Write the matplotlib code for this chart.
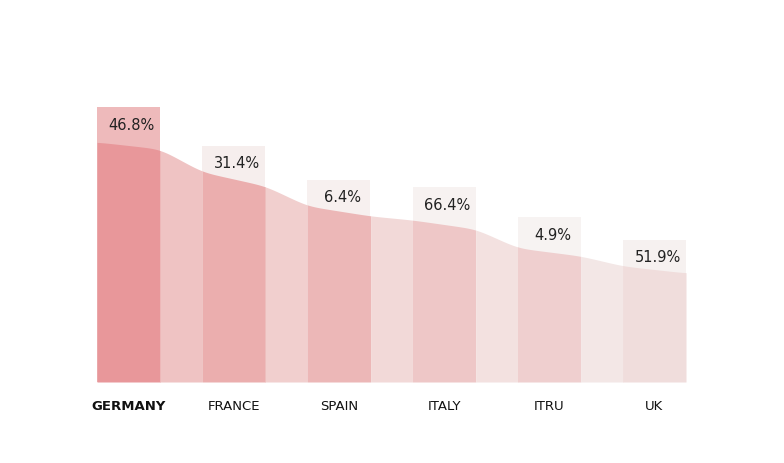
import numpy as np
import matplotlib.pyplot as plt

countries = ['GERMANY', 'FRANCE', 'SPAIN', 'ITALY', 'ITRU', 'UK']
labels = ['46.8%', '31.4%', '6.4%', '66.4%', '4.9%', '51.9%']
box_tops = [55.0, 47.2, 40.4, 39.0, 33.0, 28.4]
# curve height at the left and right edge of each bar
curve_left = [48.0, 42.0, 35.2, 32.4, 26.8, 23.2]
curve_right = [46.6, 39.2, 33.2, 30.6, 25.2, 21.8]

box_colors = ['#eebabb', '#f6eeed', '#f7f0ef', '#f7f2f1', '#f7f3f2', '#f6f1f0']
bar_colors = ['#e8979a', '#ebaeae', '#ecb7b7', '#eec7c7', '#efcfcf', '#f0dddc']
gap_colors = ['#efc3c3', '#f1cfce', '#f2d9d8', '#f3e1e0', '#f3e7e6']

width = 0.6
x = np.arange(len(countries))

fig = plt.figure(figsize=(7.84, 4.64), dpi=100)
ax = fig.add_axes([97 / 784, 81 / 464, 589 / 784, 300 / 464])

# background boxes
ax.bar(x, box_tops, width=width, color=box_colors, zorder=1)

# smooth curve through the bar edges
kx = []
ky = []
for i in range(len(x)):
    kx += [x[i] - width / 2, x[i] + width / 2]
    ky += [curve_left[i], curve_right[i]]
xs = np.linspace(kx[0], kx[-1], 1200)
ys = np.interp(xs, kx, ky)
k = np.exp(-0.5 * (np.arange(-60, 61) / 18.0) ** 2)
k /= k.sum()
ys = np.convolve(np.pad(ys, 60, mode='edge'), k, mode='valid')

for i in range(len(x)):
    m = (xs >= x[i] - width / 2 - 0.003) & (xs <= x[i] + width / 2 + 0.003)
    ax.fill_between(xs, 0, ys, where=m, color=bar_colors[i], lw=0, zorder=2)
    if i < len(x) - 1:
        m = (xs >= x[i] + width / 2 - 0.003) & (xs <= x[i + 1] - width / 2 + 0.003)
        ax.fill_between(xs, 0, ys, where=m, color=gap_colors[i], lw=0, zorder=2)

for i in range(len(x)):
    ax.text(x[i] + 0.03, box_tops[i] - 3.4, labels[i], ha='center', va='center',
            fontsize=10.5, color='#222222', zorder=3)

ax.set_xlim(-0.3, 5.3)
ax.set_ylim(0, 60)
ax.set_xticks(x)
ax.set_xticklabels(countries, fontsize=9.5, color='#111111')
ax.get_xticklabels()[0].set_fontweight('bold')
ax.tick_params(axis='x', length=0, pad=12)
ax.set_yticks([])
for s in ax.spines.values():
    s.set_visible(False)

fig.savefig('out.png', dpi=100)
